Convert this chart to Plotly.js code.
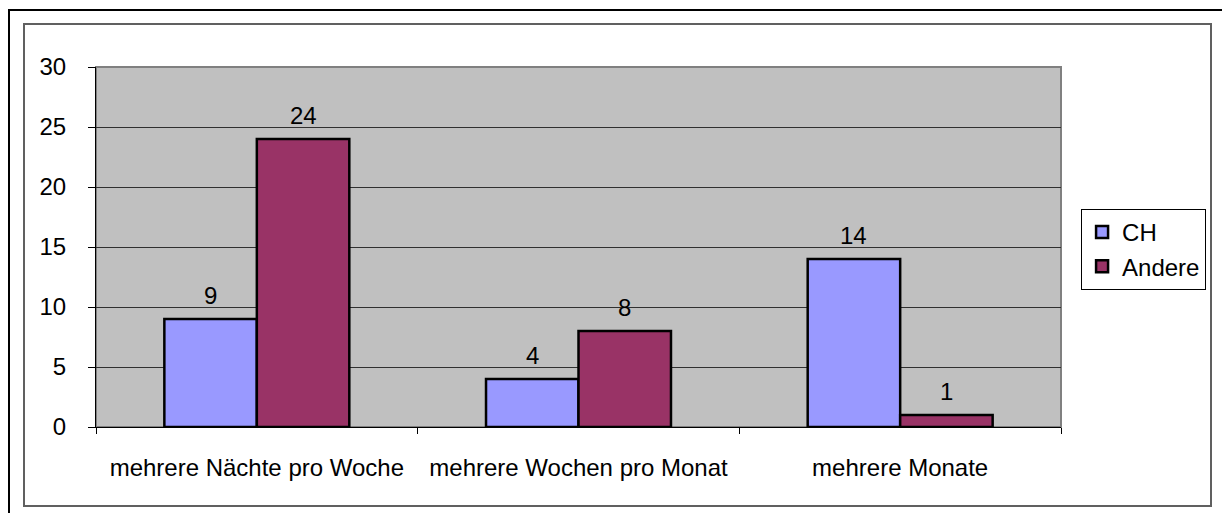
<!DOCTYPE html>
<html>
<head>
<meta charset="utf-8">
<script src="https://cdn.plot.ly/plotly-3.0.1.min.js"></script>
<style>
  html, body { margin: 0; padding: 0; background: #fff; }
  #wrap { position: relative; width: 1222px; height: 513px; overflow: hidden; }
  #chart { position: absolute; left: 0; top: 0; width: 1222px; height: 513px; }
  .outer { position: absolute; left: 8px; top: 9px; width: 2000px; height: 2000px;
           border-left: 2px solid #000; border-top: 2px solid #000; pointer-events: none; }
  .inner { position: absolute; left: 23px; top: 23px; width: 1189px; height: 484px; box-sizing: border-box;
           border: 2px solid #606060; pointer-events: none; }
</style>
</head>
<body>
<div id="wrap">
  <div id="chart"></div>
  <div class="outer"></div>
  <div class="inner"></div>
</div>
<script>
const categories = ["mehrere Nächte pro Woche", "mehrere Wochen pro Monat", "mehrere Monate"];
const seriesNames = ["CH", "Andere"];
const chValues = [9, 4, 14];
const andereValues = [24, 8, 1];
const yTickValues = [0, 5, 10, 15, 20, 25, 30];

const FONT = "Liberation Sans, Arial, sans-serif";
const FS = 24;
const BARGAP = 0.425;

const traces = [
  { type: "bar", name: seriesNames[0], x: categories, y: chValues,
    marker: { color: "#9999FF", line: { color: "#000", width: 2.5 } } },
  { type: "bar", name: seriesNames[1], x: categories, y: andereValues,
    marker: { color: "#993366", line: { color: "#000", width: 2.5 } } }
];

// value labels above bars, positioned via category index + group offset
const half = (1 - BARGAP) / 4;
const annotations = [];
[chValues, andereValues].forEach((vals, s) => {
  vals.forEach((v, i) => {
    annotations.push({
      xref: "x", yref: "y", x: i + (s === 0 ? -half : half), y: v,
      text: String(v), showarrow: false, yanchor: "middle", yshift: 24,
      font: { family: FONT, size: FS, color: "#000" }
    });
  });
});

const layout = {
  width: 1222, height: 513,
  margin: { l: 96, r: 161, t: 67, b: 86 },
  paper_bgcolor: "rgba(0,0,0,0)",
  plot_bgcolor: "#C0C0C0",
  barmode: "group",
  bargap: BARGAP,
  bargroupgap: 0,
  showlegend: true,
  font: { family: FONT, size: FS, color: "#000" },
  xaxis: {
    type: "category",
    showgrid: false,
    showline: true, linecolor: "#000", linewidth: 1,
    ticks: "outside", tickson: "boundaries", ticklen: 6, tickcolor: "#000", tickwidth: 1,
    ticklabelstandoff: 19,
    tickfont: { family: FONT, size: FS, color: "#000" },
    fixedrange: true
  },
  yaxis: {
    range: [0, 30],
    tickvals: yTickValues,
    ticktext: yTickValues.map(String),
    showgrid: true, gridcolor: "#303030", gridwidth: 1,
    zeroline: false,
    showline: true, linecolor: "#000", linewidth: 1,
    ticks: "outside", ticklen: 7, tickcolor: "#000", tickwidth: 1,
    ticklabelstandoff: 17,
    tickfont: { family: FONT, size: FS, color: "#000" },
    fixedrange: true
  },
  legend: {
    x: 1.0208, xanchor: "left",
    y: 0.6056, yanchor: "top",
    bgcolor: "#fff",
    bordercolor: "#000", borderwidth: 1,
    font: { family: FONT, size: FS, color: "#000" },
    itemwidth: 30,
    tracegroupgap: 0,
    traceorder: "normal"
  },
  shapes: [
    { type: "rect", xref: "paper", yref: "paper", x0: 0, x1: 1, y0: 0, y1: 1,
      line: { color: "#808080", width: 2 }, layer: "below" }
  ],
  annotations: annotations
};

Plotly.newPlot("chart", traces, layout, { staticPlot: true, displayModeBar: false });
</script>
</body>
</html>
